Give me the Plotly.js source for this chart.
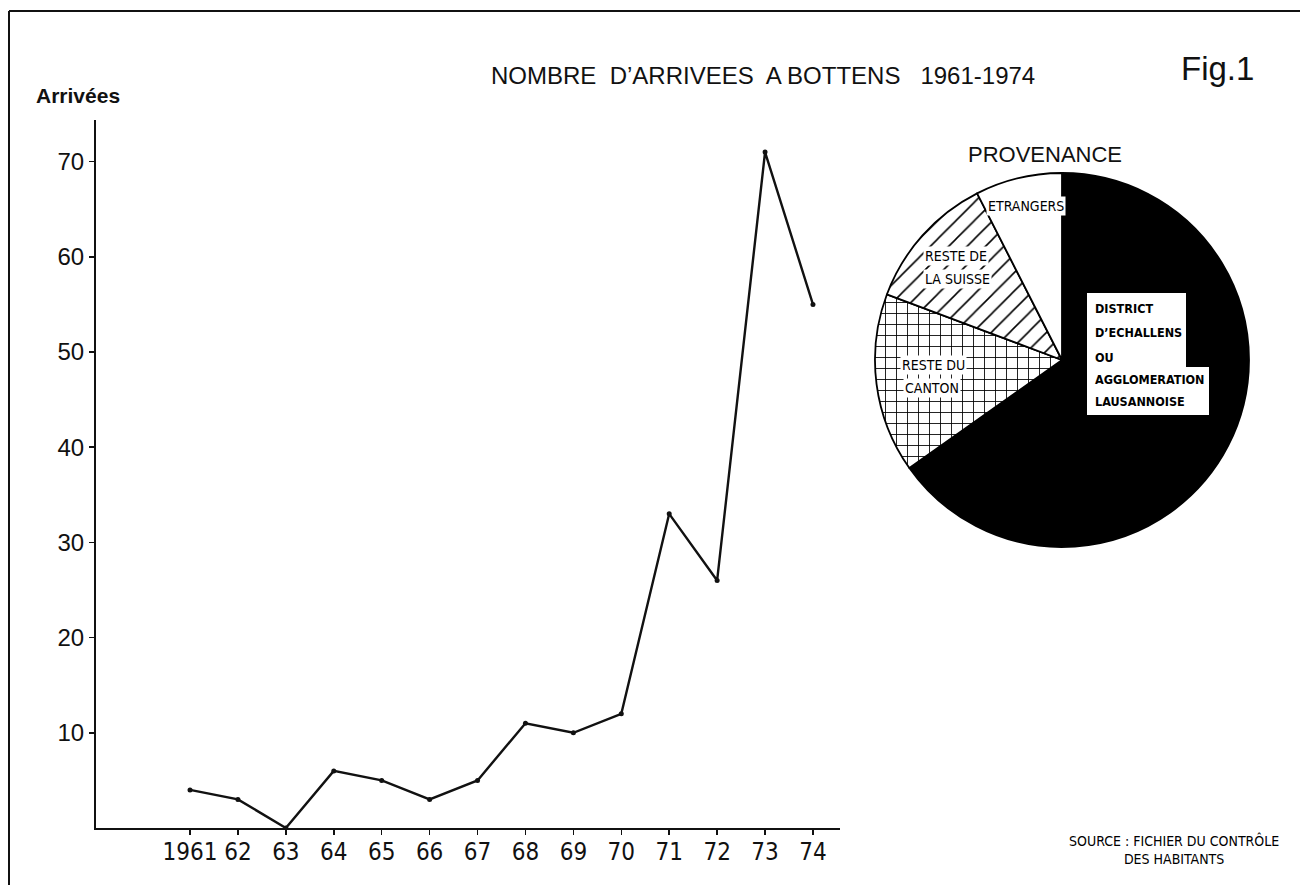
<!DOCTYPE html>
<html>
<head>
<meta charset="utf-8">
<script src="https://cdn.plot.ly/plotly-3.0.1.min.js"></script>
<style>
  html, body { margin: 0; padding: 0; background: #fff; }
  #chart { width: 1300px; height: 885px; }
</style>
</head>
<body>
<div id="chart"></div>
<script>
// ---- data ----
const years = [1961, 1962, 1963, 1964, 1965, 1966, 1967, 1968, 1969, 1970, 1971, 1972, 1973, 1974];
const arrivals = [4, 3, 0, 6, 5, 3, 5, 11, 10, 12, 33, 26, 71, 55];
const xTickLabels = ['1961', '62', '63', '64', '65', '66', '67', '68', '69', '70', '71', '72', '73', '74'];
const yTickVals = [10, 20, 30, 40, 50, 60, 70];
const pieLabels = ["District d'Echallens ou agglomération lausannoise", 'Reste du canton', 'Reste de la Suisse', 'Etrangers'];
const pieValues = [65.2, 15.5, 11.8, 7.5];

// ---- helpers for pixel -> paper ----
const W = 1300, H = 885;
const px = x => x / W;
const py = y => 1 - y / H;

const narrow = '"Liberation Sans Narrow", "Arial Narrow", "DejaVu Sans Condensed", sans-serif';
const sans = '"Liberation Sans", Arial, Helvetica, sans-serif';

const lineTrace = {
  type: 'scatter',
  mode: 'lines+markers',
  x: years,
  y: arrivals,
  line: { color: '#111', width: 2.4 },
  marker: { color: '#111', size: 5 },
  xaxis: 'x', yaxis: 'y',
  hoverinfo: 'x+y',
  showlegend: false
};

const pieTrace = {
  type: 'pie',
  labels: pieLabels,
  values: pieValues,
  sort: false,
  direction: 'clockwise',
  rotation: 0,
  textinfo: 'none',
  hoverinfo: 'label+percent',
  showlegend: false,
  domain: { x: [px(875), px(1249)], y: [py(547), py(173)] },
  marker: {
    colors: ['#000', '#fff', '#fff', '#fff'],
    line: { color: '#000', width: 1.8 },
    pattern: {
      shape: ['', '+', '/', ''],
      fgcolor: '#000',
      bgcolor: ['#000', '#fff', '#fff', '#fff'],
      size: [10, 11, 13, 10],
      solidity: [0.1, 0.15, 0.12, 0.1]
    }
  }
};

const ann = (text, x, y, opts) => Object.assign({
  text: text, x: px(x), y: py(y), xref: 'paper', yref: 'paper',
  showarrow: false, xanchor: 'center', yanchor: 'middle',
  font: { family: narrow, size: 14, color: '#000' }
}, opts || {});

const boldNarrow = { family: narrow, size: 12.5, color: '#000', weight: 'bold' };

const annotations = [
  ann('NOMBRE  D\u2019ARRIVEES  A BOTTENS   1961-1974', 763, 75, { font: { family: sans, size: 24, color: '#111' } }),
  ann('Fig.1', 1217, 68, { font: { family: sans, size: 33, color: '#111' } }),
  ann('<b>Arrivées</b>', 78, 95, { font: { family: sans, size: 21, color: '#111' } }),
  ann('PROVENANCE', 1045, 154, { font: { family: sans, size: 22, color: '#111' } }),
  ann('ETRANGERS', 1026, 206, { bgcolor: '#fff', borderpad: 1 }),
  ann('RESTE DE', 923, 256, { xanchor: 'left', bgcolor: '#fff', borderpad: 1 }),
  ann('LA SUISSE', 923, 279, { xanchor: 'left', bgcolor: '#fff', borderpad: 1 }),
  ann('RESTE DU', 900, 365, { xanchor: 'left', bgcolor: '#fff', borderpad: 1 }),
  ann('CANTON', 903, 388, { xanchor: 'left', bgcolor: '#fff', borderpad: 1 }),
  ann('DISTRICT', 1093, 308, { xanchor: 'left', font: boldNarrow }),
  ann('D\u2019ECHALLENS', 1093, 332, { xanchor: 'left', font: boldNarrow }),
  ann('OU', 1093, 357, { xanchor: 'left', font: boldNarrow }),
  ann('AGGLOMERATION', 1093, 379, { xanchor: 'left', font: boldNarrow }),
  ann('LAUSANNOISE', 1093, 402, { xanchor: 'left', font: boldNarrow }),
  ann('SOURCE : FICHIER DU CONTRÔLE<br>DES HABITANTS', 1174, 849, {
    align: 'center', font: { family: narrow, size: 14, color: '#000' }
  })
];

// stepped white label box on the black slice (pixel outline converted to paper)
const boxPts = [[1087, 293], [1186, 293], [1186, 367], [1209, 367], [1209, 415], [1087, 415]];
const boxPath = 'M ' + boxPts.map(p => px(p[0]) + ',' + py(p[1])).join(' L ') + ' Z';

const layout = {
  width: W, height: H,
  margin: { l: 0, r: 0, t: 0, b: 0 },
  paper_bgcolor: '#fff',
  plot_bgcolor: '#fff',
  showlegend: false,
  xaxis: {
    domain: [px(96), px(840)],
    range: [1959.038, 1974.564],
    tickmode: 'array',
    tickvals: years,
    ticktext: xTickLabels,
    ticks: 'outside', ticklen: 5, tickwidth: 1.5, tickcolor: '#111',
    ticklabelstandoff: -4,
    showline: true, linecolor: '#111', linewidth: 2,
    showgrid: false, zeroline: false,
    tickfont: { family: narrow, size: 24, color: '#111' },
    fixedrange: true
  },
  yaxis: {
    domain: [py(828), py(120)],
    range: [0, 74.37],
    tickmode: 'array',
    tickvals: yTickVals,
    ticktext: yTickVals.map(String),
    ticks: 'outside', ticklen: 5, tickwidth: 1.5, tickcolor: '#111',
    showline: true, linecolor: '#111', linewidth: 2,
    showgrid: false, zeroline: false,
    tickfont: { family: sans, size: 24, color: '#111' },
    fixedrange: true
  },
  shapes: [
    { type: 'line', xref: 'paper', yref: 'paper', x0: px(9), x1: px(9), y0: 0, y1: py(11), line: { color: '#111', width: 2 } },
    { type: 'line', xref: 'paper', yref: 'paper', x0: px(9), x1: 1, y0: py(11), y1: py(11), line: { color: '#111', width: 2 } },
    { type: 'path', xref: 'paper', yref: 'paper', path: boxPath, fillcolor: '#fff', line: { width: 0 }, layer: 'above' }
  ],
  annotations: annotations
};

Plotly.newPlot('chart', [lineTrace, pieTrace], layout, { displayModeBar: false, staticPlot: true });
</script>
</body>
</html>
